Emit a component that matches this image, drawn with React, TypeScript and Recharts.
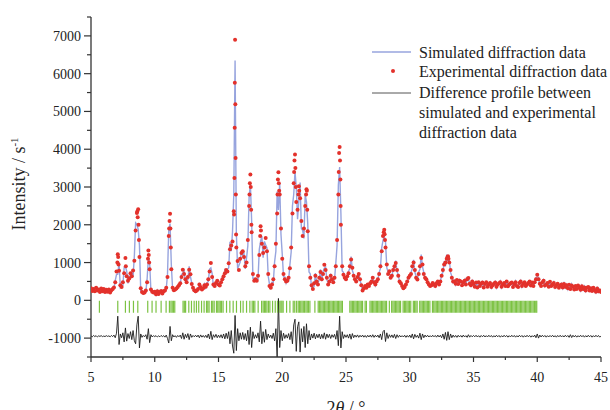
import React from "react";
import { ComposedChart, Line, Scatter, XAxis, YAxis } from "recharts";

const SERIF = '"Liberation Serif", "Times New Roman", serif';

// measured grid: 5.0° .. 45.0°, every 0.1° (one row per degree)
const START = 5;
const STEP = 0.1;

const observed = [
  320, 250, 300, 240, 330, 260, 290, 220, 310, 240,
  300, 220, 280, 230, 290, 210, 270, 300, 340, 480,
  760, 1220, 780, 400, 350, 480, 720, 1120, 640, 520,
  580, 720, 640, 790, 1050, 1850, 2310, 2410, 1150, 320,
  220, 195, 210, 260, 480, 1320, 820, 290, 230, 205,
  230, 160, 240, 170, 220, 250, 180, 240, 260, 330,
  620, 1700, 2290, 820, 330, 270, 290, 310, 350, 400,
  450, 620, 810, 700, 560, 480, 620, 810, 690, 430,
  330, 270, 240, 260, 300, 420, 350, 290, 320, 400,
  360, 420, 560, 760, 990, 620, 420, 380, 460, 520,
  420, 390, 480, 560, 640, 720, 800, 760, 980, 1350,
  1450, 1560, 2360, 6900, 1400, 1040, 800, 1100, 1250, 1300,
  1150, 900, 1000, 1600, 2500, 3330, 1800, 700, 520, 560,
  520, 650, 1200, 1960, 1500, 1250, 1400, 1650, 1300, 700,
  380, 330, 420, 560, 900, 1500, 2300, 3390, 2800, 1900,
  1100, 700, 560, 500, 520, 600, 850, 1400, 2300, 3100,
  3860, 2600, 2400, 3020, 2700, 2100, 1700, 1900, 2500, 2940,
  1830, 900, 600, 400, 300, 450, 650, 500, 420, 600,
  750, 560, 700, 940, 800, 600, 420, 500, 650, 560,
  480, 600, 900, 1600, 2800, 4060, 2000, 900, 680, 600,
  560, 640, 720, 900, 1080, 860, 650, 560, 500, 620,
  700, 560, 400, 260, 320, 380, 330, 420, 380, 450,
  500, 600, 480, 420, 500, 560, 700, 900, 1300, 1700,
  1870, 1400, 950, 700, 770, 600, 650, 800, 900, 990,
  800, 650, 500, 450, 380, 320, 350, 420, 500, 600,
  650, 700, 900, 1000, 800, 600, 550, 700, 900, 1120,
  950, 700, 600, 560, 480, 420, 380, 400, 460, 420,
  380, 450, 500, 420, 500, 650, 800, 950, 1000, 1100,
  1165, 1000, 800, 600, 500, 500, 440, 540, 430, 520,
  500, 400, 480, 520, 420, 560, 590, 440, 400, 500,
  440, 360, 470, 340, 480, 380, 440, 470, 340, 430,
  480, 360, 420, 460, 350, 400, 440, 470, 360, 420,
  450, 480, 360, 420, 460, 380, 500, 370, 420, 450,
  470, 350, 430, 480, 380, 350, 460, 500, 380, 440,
  480, 380, 420, 460, 500, 390, 470, 380, 480, 560,
  680, 560, 440, 380, 480, 520, 390, 420, 460, 360,
  490, 380, 420, 460, 350, 400, 440, 330, 390, 420,
  340, 430, 360, 400, 320, 410, 300, 390, 360, 290,
  380, 300, 390, 330, 280, 370, 300, 340, 260, 330,
  350, 260, 320, 250, 330, 270, 230, 310, 240, 260,
  220,
];

// observed minus simulated, same grid
const residual = [
  10, -15, 20, -10, 15, -20, 10, -5, 15, -10,
  5, -10, 15, -5, 10, -15, 20, -10, 30, -40,
  80, 530, -220, 60, -40, 90, -150, 220, -130, 70,
  -60, 120, -90, 150, -120, -200, 300, 530, -310, 60,
  -30, 20, -15, 40, -80, 200, -170, 40, -20, 15,
  -10, 15, -20, 10, -15, 20, -10, 15, -25, 30,
  -60, -180, 260, -120, 40, -20, 15, -30, 20, -15,
  30, -60, 90, -80, 50, -40, 70, -90, 60, -30,
  20, -15, 25, -20, 30, -40, 35, -25, 20, -30,
  25, -40, 60, -70, 130, -90, 40, -30, 50, -40,
  30, -35, 40, -50, 60, -70, 80, -60, 120, -200,
  150, -260, -450, 550, -380, 200, -120, 90, -80, 100,
  -90, 70, -120, 160, -220, 240, -300, 120, -60, 40,
  -50, 90, -150, 400, -200, 120, -160, 180, -90, 60,
  -40, 30, -60, 80, -120, 200, -580, 1000, -300, 150,
  -120, 80, -60, 40, -50, 70, -90, 120, -200, 300,
  450, -400, 250, 380, -420, 200, -150, 260, -300, 330,
  -200, 150, -100, 60, -50, 80, -70, 50, -40, 60,
  -70, 50, -60, 90, -80, 60, -40, 50, -60, 40,
  -30, 50, -80, 150, -250, 530, -310, 120, -60, 40,
  -30, 40, -50, 60, -80, 70, -40, 30, -25, 35,
  -30, 25, -20, 30, -25, 20, -30, 25, -20, 30,
  -25, 40, -30, 25, -20, 30, -40, 60, -90, 120,
  160, -140, 90, -60, 40, -30, 35, -40, 50, -60,
  40, -30, 25, -20, 15, -20, 25, -30, 20, -25,
  30, -40, 60, -70, 50, -30, 25, -50, 80, -90,
  60, -40, 30, -20, 25, -20, 15, -20, 25, -15,
  20, -25, 30, -20, 25, -40, 60, -80, 100, -110,
  120, -90, 60, -40, 30, -25, 20, -30, 25, -20,
  20, -25, 30, -20, 15, -30, 40, -25, 20, -15,
  20, -15, 25, -20, 15, -25, 20, -15, 25, -20,
  15, -20, 25, -15, 20, -25, 15, -20, 25, -15,
  20, -25, 15, -20, 25, -15, 20, -25, 15, -20,
  25, -15, 20, -25, 15, -20, 25, -15, 20, -25,
  15, -20, 25, -15, 20, -25, 15, -20, 30, -40,
  60, -50, 30, -20, 25, -15, 20, -25, 15, -20,
  20, -15, 25, -20, 15, -25, 20, -15, 25, -20,
  15, -20, 25, -15, 20, -30, 40, -35, 25, -20,
  20, -25, 15, -20, 25, -15, 20, -25, 15, -20,
  25, -15, 20, -25, 15, -20, 25, -15, 20, -25,
  10,
];

// extra observed points on the flanks of the sharp peaks [2θ, intensity]
const peakPoints: [number, number][] = [
  [7.07, 1000], [7.13, 1150], [7.16, 950], [7.73, 900],
  [8.63, 2350], [8.66, 2200], [8.73, 2000], [8.76, 1600],
  [9.47, 1100], [9.53, 1200], [9.56, 1000],
  [11.13, 1900], [11.16, 2100], [11.23, 1900], [11.26, 1400],
  [16.22, 2270], [16.25, 3240], [16.27, 4570], [16.28, 5760],
  [16.32, 5190], [16.34, 3770], [16.36, 2800], [16.38, 1740],
  [17.43, 2800], [17.46, 3100], [17.53, 3000], [17.56, 2400], [17.58, 2000],
  [18.27, 1700], [18.33, 1850],
  [19.63, 2800], [19.66, 3200], [19.73, 3100], [19.76, 2900],
  [20.93, 3400], [20.96, 3700], [21.03, 3500], [21.06, 3000],
  [21.27, 2800], [21.33, 2900], [21.87, 2800], [21.93, 2900], [21.96, 2400],
  [24.43, 3400], [24.46, 3900], [24.53, 3700], [24.56, 3200], [24.58, 2500],
  [27.96, 1800], [28.03, 1750], [28.06, 1600],
  [32.96, 1150], [33.04, 1100],
];

// Bragg reflection positions (2θ)
const reflections = [
  5.66, 7.1, 7.7, 8.01, 8.33, 8.67, 9.45, 9.79, 10.1, 10.5, 10.89, 11.15,
  11.27, 11.37, 11.47, 11.57, 12.22, 12.32, 12.42, 12.67, 12.88, 13.09,
  13.27, 13.45, 13.67, 13.87, 14.06, 14.16, 14.26, 14.45, 14.55, 14.66,
  14.84, 14.94, 15.04, 15.14, 15.24, 15.36, 15.63, 15.89, 16.15, 16.41,
  16.73, 16.93, 17.2, 17.46, 17.64, 17.74, 17.85, 18.11, 18.38, 18.5,
  18.6, 18.7, 18.8, 18.92, 19.03, 19.24, 19.45, 19.63, 19.81, 19.9,
  19.98, 20.07, 20.34, 20.6, 20.86, 20.98, 21.12, 21.25, 21.35, 21.45,
  21.55, 21.65, 21.75, 21.86, 21.96, 22.06, 22.17, 22.56, 22.82, 22.92,
  23.02, 23.12, 23.22, 23.32, 23.42, 23.52, 23.62, 23.72, 23.82, 23.92,
  24.02, 24.12, 24.22, 24.32, 24.42, 24.52, 24.62, 24.72, 25.3, 25.4,
  25.5, 25.6, 25.7, 25.8, 25.9, 26.0, 26.1, 26.2, 26.3, 26.5, 26.6,
  26.88, 26.98, 27.08, 27.18, 27.28, 27.38, 27.48, 27.58, 27.68, 27.78,
  27.88, 27.98, 28.08, 28.18, 28.4, 28.58, 28.68, 28.78, 28.88, 28.98,
  29.08, 29.18, 29.28, 29.48, 29.58, 29.68, 29.78, 29.88, 29.98, 30.08,
  30.28, 30.38, 30.48, 30.58, 30.78, 30.88, 30.98, 31.08, 31.18, 31.28,
  31.38, 31.48, 31.58, 31.78, 31.88, 31.98, 32.08, 32.18, 32.28, 32.38,
  32.48, 32.58, 32.68, 32.78, 32.88, 32.98, 33.08, 33.18, 33.28, 33.38,
  33.48, 33.58, 33.68, 33.78, 33.88, 33.98, 34.08, 34.18, 34.28, 34.38,
  34.48, 34.58, 34.68, 34.78, 34.88, 34.98, 35.08, 35.18, 35.28, 35.38,
  35.48, 35.58, 35.68, 35.78, 35.88, 35.98, 36.08, 36.18, 36.28, 36.38,
  36.48, 36.58, 36.68, 36.78, 36.88, 36.98, 37.08, 37.18, 37.28, 37.38,
  37.48, 37.58, 37.68, 37.78, 37.88, 37.98, 38.08, 38.18, 38.28, 38.38,
  38.48, 38.58, 38.68, 38.78, 38.88, 38.98, 39.08, 39.18, 39.28, 39.38,
  39.48, 39.58, 39.68, 39.78, 39.88, 39.96,
];

const xTicks = [5, 7.5, 10, 12.5, 15, 17.5, 20, 22.5, 25, 27.5, 30, 32.5, 35, 37.5, 40, 42.5, 45];
const yTicks = [
  -1500, -1000, -500, 0, 500, 1000, 1500, 2000, 2500, 3000, 3500, 4000,
  4500, 5000, 5500, 6000, 6500, 7000, 7500,
];

const DIFF_OFFSET = -950;
const REFLECTION_ROW = -170;

const angle = (i: number) => Math.round((START + i * STEP) * 100) / 100;

const calcData = observed.map((v, i) => ({ x: angle(i), y: v - residual[i] }));
const diffData = residual.map((r, i) => ({ x: angle(i), y: r + DIFF_OFFSET }));
const obsData = [
  ...observed.map((v, i) => ({ x: angle(i), y: v })),
  ...peakPoints.map(([x, y]) => ({ x, y })),
].sort((a, b) => a.x - b.x);
const reflectionData = reflections.map((x) => ({ x, y: REFLECTION_ROW }));

const AXIS = "#333";

const YTick = (props: any) => {
  const { x, y, payload } = props;
  const major = payload.value % 1000 === 0;
  const axisX = x + 10;
  return (
    <g>
      <line x1={axisX - (major ? 7 : 4)} x2={axisX} y1={y} y2={y} stroke={AXIS} strokeWidth={1.2} />
      {major && (
        <text x={x} y={y} dy="0.355em" textAnchor="end" fontSize={14} fontFamily={SERIF} fill="#222">
          {payload.value}
        </text>
      )}
    </g>
  );
};

const XTick = (props: any) => {
  const { x, y, payload } = props;
  const major = payload.value % 5 === 0;
  const axisY = y - 15;
  return (
    <g>
      <line x1={x} x2={x} y1={axisY} y2={axisY + (major ? 5 : 3)} stroke={AXIS} strokeWidth={1.2} />
      {major && (
        <text x={x} y={y} dy="0.71em" textAnchor="middle" fontSize={14} fontFamily={SERIF} fill="#222">
          {payload.value}
        </text>
      )}
    </g>
  );
};

const YLabel = (props: any) => {
  const { viewBox } = props;
  const cx = viewBox.x + 25;
  const cy = viewBox.y + viewBox.height / 2 - 3;
  return (
    <text x={cx} y={cy} transform={`rotate(-90 ${cx} ${cy})`} textAnchor="middle" fontSize={18} fontFamily={SERIF} fill="#222">
      Intensity / s<tspan dy={-7} fontSize={11}>-1</tspan>
    </text>
  );
};

const XLabel = (props: any) => {
  const { viewBox } = props;
  const cx = viewBox.x + viewBox.width / 2;
  return (
    <text x={cx} y={viewBox.y + 57} textAnchor="middle" fontSize={18} fontFamily={SERIF} fill="#222">
      2<tspan fontStyle="italic">θ</tspan> / °
    </text>
  );
};

export default function App() {
  return (
    <div style={{ position: "absolute", left: 0, top: 0, width: 610, height: 410, background: "#fff" }}>
      <ComposedChart width={610} height={410} margin={{ top: 17, right: 9, bottom: 0, left: 0 }}>
        <XAxis
          type="number"
          dataKey="x"
          domain={[5, 45]}
          ticks={xTicks}
          interval={0}
          allowDataOverflow
          height={53}
          tickSize={5}
          tickMargin={10}
          tickLine={false}
          tick={<XTick />}
          axisLine={{ stroke: AXIS, strokeWidth: 1.3 }}
          label={<XLabel />}
        />
        <YAxis
          type="number"
          dataKey="y"
          domain={[-1500, 7500]}
          ticks={yTicks}
          interval={0}
          allowDataOverflow
          width={91}
          tickSize={7}
          tickMargin={3}
          tickLine={false}
          tick={<YTick />}
          axisLine={{ stroke: AXIS, strokeWidth: 1.3 }}
          label={<YLabel />}
        />
        <Line data={diffData} dataKey="y" type="linear" dot={false} stroke="#1c1c1c" strokeWidth={0.9} isAnimationActive={false} />
        <Line data={calcData} dataKey="y" type="linear" dot={false} stroke="#97a4de" strokeWidth={1.4} isAnimationActive={false} />
        <Scatter
          data={obsData}
          dataKey="y"
          isAnimationActive={false}
          shape={(p: any) => <circle cx={p.cx} cy={p.cy} r={2} fill="#e3312b" />}
        />
        <Scatter
          data={reflectionData}
          dataKey="y"
          isAnimationActive={false}
          shape={(p: any) => (
            <line x1={p.cx} x2={p.cx} y1={p.cy - 6} y2={p.cy + 6} stroke="#7cc243" strokeWidth={1.2} />
          )}
        />
      </ComposedChart>
      <svg width={610} height={410} style={{ position: "absolute", left: 0, top: 0, pointerEvents: "none" }}>
        <g fontFamily={SERIF} fontSize={16} fill="#222">
          <line x1={372} x2={411} y1={52} y2={52} stroke="#97a4de" strokeWidth={1.4} />
          <text x={419} y={57.5}>Simulated diffraction data</text>
          <circle cx={393} cy={71} r={2} fill="#e3312b" />
          <text x={419} y={76.5}>Experimental diffraction data</text>
          <line x1={372} x2={411} y1={93} y2={93} stroke="#555" strokeWidth={1} />
          <text x={419} y={98}>Difference profile between</text>
          <text x={419} y={118}>simulated and experimental</text>
          <text x={419} y={138}>diffraction data</text>
        </g>
      </svg>
    </div>
  );
}
